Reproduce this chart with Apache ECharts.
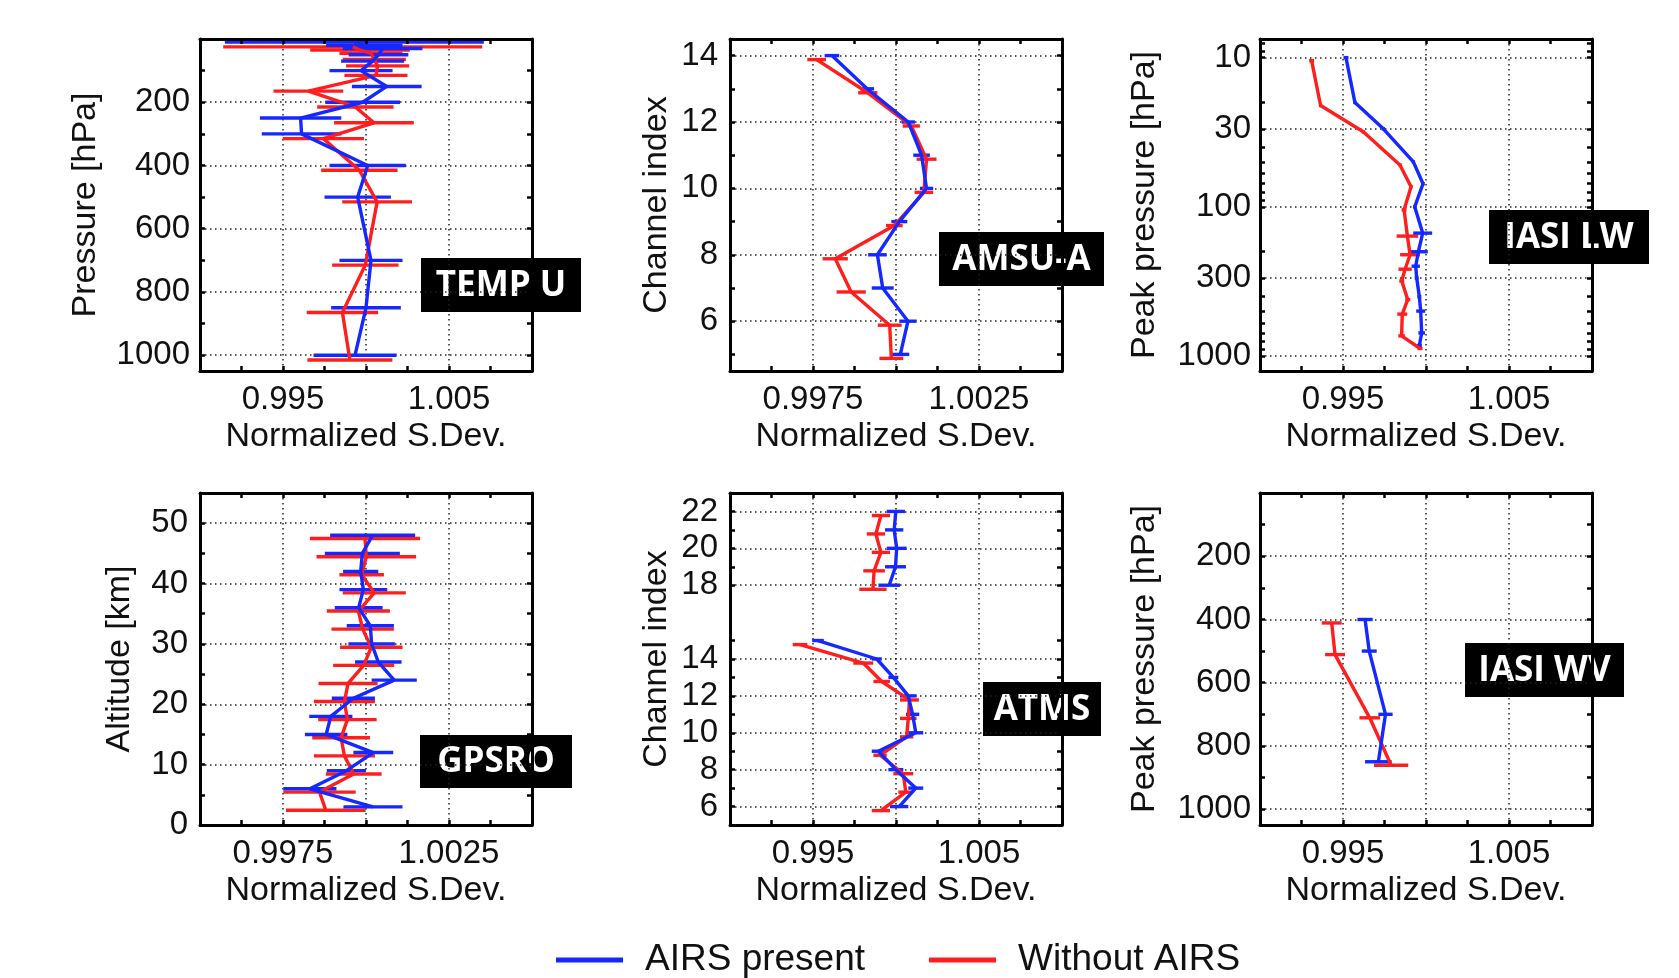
<!DOCTYPE html>
<html>
<head>
<meta charset="utf-8">
<script src="https://cdn.jsdelivr.net/npm/echarts@6/dist/echarts.min.js"></script>
<style>
html,body{margin:0;padding:0;background:#fff;}
#chart{width:1679px;height:978px;}
</style>
</head>
<body>
<div id="chart"></div>
<script>
// ================= DATA =================
// TEMP U
const tempLevels  = [10, 20, 30, 50, 70, 100, 150, 200, 250, 300, 400, 500, 700, 850, 1000];
const tempBlue    = [0.9993, 0.9999, 1.0010, 1.00075, 1.0004, 0.9997, 1.00125, 0.9998, 0.99606, 0.99612, 1.0001, 0.9995, 1.0003, 1.0000, 0.99934];
const tempBlueErr = [0.0078, 0.0023, 0.0024, 0.0018, 0.0019, 0.0019, 0.0021, 0.00225, 0.00245, 0.0024, 0.0023, 0.0020, 0.0019, 0.0021, 0.0025];
const tempRed     = [0.9992, 0.99964, 1.0003, 1.0005, 1.0007, 1.0006, 0.99653, 0.99936, 1.00048, 0.99743, 0.9996, 1.00067, 0.99996, 0.99858, 0.99903];
const tempRedErr  = [0.0078, 0.0030, 0.0019, 0.0019, 0.0019, 0.0019, 0.0021, 0.0023, 0.0024, 0.00245, 0.0023, 0.0021, 0.0020, 0.00215, 0.00256];

// AMSU-A
const amsuChannels = [14, 13, 12, 11, 10, 9, 8, 7, 6, 5];
const amsuBlue     = [0.99807, 0.99913, 1.00037, 1.00077, 1.00092, 1.0001, 0.99944, 0.9996, 1.00036, 1.00013];
const amsuBlueErr  = [0.00022, 0.00021, 0.0002, 0.00025, 0.0002, 0.00024, 0.00028, 0.00033, 0.00026, 0.00027];
const amsuRed      = [0.99761, 0.99915, 1.00046, 1.00092, 1.00084, 0.99995, 0.99817, 0.99865, 0.99981, 0.99986];
const amsuRedErr   = [0.00028, 0.00029, 0.00026, 0.0003, 0.00028, 0.00025, 0.00038, 0.00044, 0.00036, 0.00036];

// IASI LW
const lwLevels  = [10, 20, 30, 50, 70, 100, 150, 200, 250, 300, 400, 500, 700, 850];
const lwBlue    = [0.99518, 0.99572, 0.99743, 0.99924, 0.99982, 0.99932, 0.9998, 0.99954, 0.99938, 0.99944, 0.9996, 0.99968, 0.99974, 0.9996];
const lwBlueErr = [0.00015, 0.0001, 0.0001, 0.0001, 0.0001, 0.0001, 0.00057, 0.00057, 0.00025, 0.00012, 0.00012, 0.00027, 0.0002, 0.00015];
const lwRed     = [0.99311, 0.99365, 0.99622, 0.99843, 0.9991, 0.99868, 0.99888, 0.99904, 0.99874, 0.99854, 0.9989, 0.99857, 0.99853, 0.99964];
const lwRedErr  = [0.00015, 0.0001, 0.0001, 0.0001, 0.0001, 0.00015, 0.00065, 0.0006, 0.0004, 0.00015, 0.00015, 0.0003, 0.0002, 0.00015];

// GPSRO
const gpsAltitudes = [48, 45, 42, 39, 36, 33, 30, 27, 24, 21, 18, 15, 12, 9, 6, 3];
const gpsBlue      = [1.0002, 0.99989, 0.99984, 0.99992, 0.99978, 1.00013, 1.00017, 1.00037, 1.00085, 0.99962, 0.99894, 0.9988, 1.00022, 0.99941, 0.99831, 1.00021];
const gpsBlueErr   = [0.00128, 0.00113, 0.00053, 0.00072, 0.00072, 0.00071, 0.0007, 0.0007, 0.00068, 0.00065, 0.00065, 0.00064, 0.0006, 0.00059, 0.0008, 0.00089];
const gpsRed       = [0.99997, 1.00001, 0.99987, 1.00025, 0.99977, 0.9999, 1.00016, 0.99993, 0.99946, 0.99935, 0.99944, 0.99925, 0.99935, 0.99963, 0.9986, 0.99879];
const gpsRedErr    = [0.00166, 0.0015, 0.00067, 0.00095, 0.00095, 0.00094, 0.00094, 0.00092, 0.00089, 0.00092, 0.00088, 0.00087, 0.00092, 0.00084, 0.00109, 0.0012];

// ATMS
const atmsChannels = [22, 21, 20, 19, 18, 15, 14, 13, 12, 11, 10, 9, 8, 7, 6];
const atmsBlue     = [0.99999, 0.99989, 1.00004, 0.99997, 0.99959, 0.9953, 0.99884, 0.99984, 1.00074, 1.0010, 1.00119, 0.99894, 0.99999, 1.00119, 1.00019];
const atmsBlueErr  = [0.00055, 0.00055, 0.0006, 0.00063, 0.00065, 0.00035, 0.0003, 0.0003, 0.0005, 0.0004, 0.00045, 0.0004, 0.00045, 0.00045, 0.00055];
const atmsRed      = [0.99909, 0.99879, 0.99909, 0.99868, 0.99861, 0.99422, 0.99803, 0.99914, 1.00081, 1.00074, 1.00064, 0.99904, 1.00044, 1.00059, 0.99909];
const atmsRedErr   = [0.00055, 0.00055, 0.00055, 0.00065, 0.00082, 0.00044, 0.0006, 0.0005, 0.00057, 0.0005, 0.0004, 0.0004, 0.0006, 0.00045, 0.00055];

// IASI WV
const wvLevels  = [400, 500, 700, 850];
const wvBlue    = [0.99633, 0.99658, 0.99756, 0.99713];
const wvBlueErr = [0.00046, 0.00045, 0.00043, 0.0008];
const wvRed     = [0.99432, 0.99452, 0.99661, 0.9979];
const wvRedErr  = [0.0006, 0.0006, 0.00062, 0.00103];

// ================= TICK LABELS / GRID VALUES =================
const WIDE_X_LABELS   = [0.995, 1.005];
const WIDE_X_GRID     = [0.995, 1.000, 1.005];
const WIDE_X_TICKS    = [0.9925, 0.995, 0.9975, 1.000, 1.0025, 1.005, 1.0075];
const NARROW_X_LABELS = [0.9975, 1.0025];
const NARROW_X_GRID   = [0.9975, 1.000, 1.0025];
const NARROW_X_TICKS  = [0.99625, 0.9975, 0.99875, 1.000, 1.00125, 1.0025, 1.00375];

const PRES_Y_LABELS = [200, 400, 600, 800, 1000];
const PRES_Y_TICKS  = [100, 200, 300, 400, 500, 600, 700, 800, 900, 1000];
const AMSU_Y_LABELS = [6, 8, 10, 12, 14];
const AMSU_Y_TICKS  = [5, 6, 7, 8, 9, 10, 11, 12, 13, 14];
const LW_Y_LABELS   = [10, 30, 100, 300, 1000];
const LW_Y_TICKS    = [8, 9, 10, 20, 30, 40, 50, 60, 70, 80, 90, 100, 200, 300, 400, 500, 600, 700, 800, 900, 1000];
const GPS_Y_LABELS  = [0, 10, 20, 30, 40, 50];
const GPS_Y_GRID    = [10, 20, 30, 40, 50];
const GPS_Y_TICKS   = [5, 10, 15, 20, 25, 30, 35, 40, 45, 50];
const ATMS_Y_LABELS = [6, 8, 10, 12, 14, 18, 20, 22];
const ATMS_Y_TICKS  = [6, 7, 8, 9, 10, 11, 12, 13, 14, 15, 18, 19, 20, 21, 22];

const SERIES_NAMES = ['AIRS present', 'Without AIRS'];
const X_NAME = 'Normalized S.Dev.';

// ================= LAYOUT / STYLE =================
const BLUE = '#1428ff', RED = '#ff1e1e';
const COL_LEFT = [200, 730, 1260];
const ROW_TOP = [39, 493];
const BOX = 332;
const FONT = '"Liberation Sans", Arial, Helvetica, sans-serif';
const TXT = '#111';
const LW = 3.4;

const X_KINDS = {
  wide:   {min: 0.990, max: 1.010, labels: WIDE_X_LABELS, grid: WIDE_X_GRID, ticks: WIDE_X_TICKS},
  narrow: {min: 0.995, max: 1.005, labels: NARROW_X_LABELS, grid: NARROW_X_GRID, ticks: NARROW_X_TICKS}
};

const PANELS = [
  {label: 'TEMP U', col: 0, row: 0, x: 'wide',
   y: {min: 0, max: 1050, inverse: true, labels: PRES_Y_LABELS, grid: PRES_Y_LABELS, ticks: PRES_Y_TICKS, name: 'Pressure [hPa]', nameGap: 97, margin: 10},
   ys: tempLevels, blue: tempBlue, blueErr: tempBlueErr, red: tempRed, redErr: tempRedErr, redShift: 15,
   box: [421, 258, 160, 54]},
  {label: 'AMSU-A', col: 1, row: 0, x: 'narrow',
   y: {min: 4.5, max: 14.5, inverse: false, labels: AMSU_Y_LABELS, grid: AMSU_Y_LABELS, ticks: AMSU_Y_TICKS, name: 'Channel index', nameGap: 56, margin: 12},
   ys: amsuChannels, blue: amsuBlue, blueErr: amsuBlueErr, red: amsuRed, redErr: amsuRedErr, redShift: -0.12,
   box: [939, 232, 165, 54]},
  {label: 'IASI LW', col: 2, row: 0, x: 'wide', log: true,
   y: {min: 7.5, max: 1260, inverse: true, labels: LW_Y_LABELS, grid: LW_Y_LABELS, ticks: LW_Y_TICKS, name: 'Peak pressure [hPa]', nameGap: 98, margin: 9},
   ys: lwLevels, blue: lwBlue, blueErr: lwBlueErr, red: lwRed, redErr: lwRedErr, redShift: 0.02,
   box: [1489, 210, 160, 54]},
  {label: 'GPSRO', col: 0, row: 1, x: 'narrow',
   y: {min: 0, max: 55, inverse: false, labels: GPS_Y_LABELS, grid: GPS_Y_GRID, ticks: GPS_Y_TICKS, name: 'Altitude [km]', nameGap: 63, margin: 12},
   ys: gpsAltitudes, blue: gpsBlue, blueErr: gpsBlueErr, red: gpsRed, redErr: gpsRedErr, redShift: -0.55,
   box: [420, 735, 152, 53]},
  {label: 'ATMS', col: 1, row: 1, x: 'wide', gaps: true,
   y: {min: 5, max: 23, inverse: false, labels: ATMS_Y_LABELS, grid: ATMS_Y_LABELS, ticks: ATMS_Y_TICKS, name: 'Channel index', nameGap: 56, margin: 12},
   ys: atmsChannels, blue: atmsBlue, blueErr: atmsBlueErr, red: atmsRed, redErr: atmsRedErr, redShift: -0.22,
   box: [983, 682, 118, 54]},
  {label: 'IASI WV', col: 2, row: 1, x: 'wide',
   y: {min: 0, max: 1050, inverse: true, labels: PRES_Y_LABELS, grid: PRES_Y_LABELS, ticks: PRES_Y_TICKS, name: 'Peak pressure [hPa]', nameGap: 98, margin: 9},
   ys: wvLevels, blue: wvBlue, blueErr: wvBlueErr, red: wvRed, redErr: wvRedErr, redShift: 11,
   box: [1465, 643, 159, 54]}
];

// ================= BUILD OPTION =================
const fmtX = v => parseFloat(Number(v).toFixed(5)).toString();
const lineStyleBox = {show: true, onZero: false, lineStyle: {color: '#000', width: 3}};
const tickStyle = vals => ({show: true, inside: true, length: 5, customValues: vals, lineStyle: {color: '#000', width: 2.5}});
const gridDots = {show: true, lineStyle: {color: '#222', width: 1.5, type: [1.5, 3.5]}};
const labelText = {color: TXT, fontSize: 33, fontFamily: FONT};

const grids = [], xAxes = [], yAxes = [], series = [], graphics = [];

function renderBar(params, api) {
  const a = api.coord([api.value(0), api.value(2)]);
  const b = api.coord([api.value(1), api.value(2)]);
  return {type: 'line', shape: {x1: a[0], y1: a[1], x2: b[0], y2: b[1]},
          style: {stroke: api.visual('color'), lineWidth: LW}};
}

PANELS.forEach((p, g) => {
  const tf = p.log ? (v => Math.log10(v)) : (v => v);
  const xk = X_KINDS[p.x];
  grids.push({left: COL_LEFT[p.col], top: ROW_TOP[p.row], width: BOX, height: BOX,
              containLabel: false, outerBoundsMode: 'none', show: false});

  const xc = {gridIndex: g, type: 'value', min: xk.min, max: xk.max};
  xAxes.push(Object.assign({}, xc, {position: 'bottom', axisLine: lineStyleBox, axisTick: tickStyle(xk.ticks),
    axisLabel: {show: true, customValues: xk.labels, formatter: fmtX, margin: 12, ...labelText},
    splitLine: {show: false}, name: X_NAME, nameLocation: 'middle', nameGap: 49,
    nameTextStyle: {color: TXT, fontSize: 34, fontFamily: FONT}, z: 5}));
  xAxes.push(Object.assign({}, xc, {position: 'top', axisLine: lineStyleBox, axisTick: tickStyle(xk.ticks),
    axisLabel: {show: false}, splitLine: {show: false}, z: 5}));
  xAxes.push(Object.assign({}, xc, {position: 'bottom', axisLine: {show: false, onZero: false},
    axisTick: {show: false, customValues: xk.grid}, axisLabel: {show: false}, splitLine: gridDots, z: 1}));

  const yc = {gridIndex: g, type: 'value', min: tf(p.y.min), max: tf(p.y.max), inverse: p.y.inverse};
  const yFmt = p.log ? (v => String(Math.round(Math.pow(10, v)))) : (v => String(Math.round(v * 1000) / 1000));
  yAxes.push(Object.assign({}, yc, {position: 'left', axisLine: lineStyleBox, axisTick: tickStyle(p.y.ticks.map(tf)),
    axisLabel: {show: true, customValues: p.y.labels.map(tf), formatter: yFmt, margin: p.y.margin,
                padding: [6, 0, 0, 0], ...labelText},
    splitLine: {show: false}, name: p.y.name, nameLocation: 'middle', nameGap: p.y.nameGap, nameRotate: 90,
    nameTextStyle: {color: TXT, fontSize: 34, fontFamily: FONT}, z: 5}));
  yAxes.push(Object.assign({}, yc, {position: 'right', axisLine: lineStyleBox, axisTick: tickStyle(p.y.ticks.map(tf)),
    axisLabel: {show: false}, splitLine: {show: false}, z: 5}));
  yAxes.push(Object.assign({}, yc, {position: 'left', axisLine: {show: false, onZero: false},
    axisTick: {show: false, customValues: p.y.grid.map(tf)}, axisLabel: {show: false}, splitLine: gridDots, z: 1}));

  const xi = g * 3, yi = g * 3;
  const addPair = (name, color, xs, errs, shift) => {
    const yv = p.ys.map(v => tf(v) + shift);
    series.push({type: 'custom', name, color, itemStyle: {color}, xAxisIndex: xi, yAxisIndex: yi,
      renderItem: renderBar, encode: {x: [0, 1], y: 2}, z: 3,
      data: xs.map((v, i) => [v - errs[i], v + errs[i], yv[i]])});
    const pts = [];
    xs.forEach((v, i) => {
      if (p.gaps && i > 0 && Math.abs(p.ys[i] - p.ys[i - 1]) > 1) pts.push([null, null]);
      pts.push([v, yv[i]]);
    });
    series.push({type: 'line', name, color, xAxisIndex: xi, yAxisIndex: yi, data: pts,
      symbol: 'none', showSymbol: false, connectNulls: false, z: 3,
      lineStyle: {color, width: LW}, itemStyle: {color}});
  };
  addPair(SERIES_NAMES[1], RED, p.red, p.redErr, p.redShift);
  addPair(SERIES_NAMES[0], BLUE, p.blue, p.blueErr, 0);

  graphics.push({type: 'group', left: p.box[0], top: p.box[1], z: 100, children: [
    {type: 'rect', shape: {x: 0, y: 0, width: p.box[2], height: p.box[3]}, style: {fill: '#000'}},
    {type: 'text', x: p.box[2] / 2, y: p.box[3] / 2 + 1,
     style: {text: p.label, fill: '#fff', font: 'bold 35px "Open Sans", "DejaVu Sans", sans-serif',
             textAlign: 'center', textVerticalAlign: 'middle'}}
  ]});
});

const option = {
  animation: false,
  backgroundColor: '#fff',
  grid: grids,
  xAxis: xAxes,
  yAxis: yAxes,
  series: series,
  legend: {data: SERIES_NAMES, left: 556, top: 940, padding: 0, icon: 'rect', itemWidth: 67, itemHeight: 5,
           itemGap: 64, selectedMode: false,
           textStyle: {color: TXT, fontSize: 37, fontFamily: FONT, padding: [0, 0, 0, 17], lineHeight: 40}},
  graphic: graphics
};

const chart = echarts.init(document.getElementById('chart'), null, {renderer: 'canvas'});
chart.setOption(option);
</script>
</body>
</html>
